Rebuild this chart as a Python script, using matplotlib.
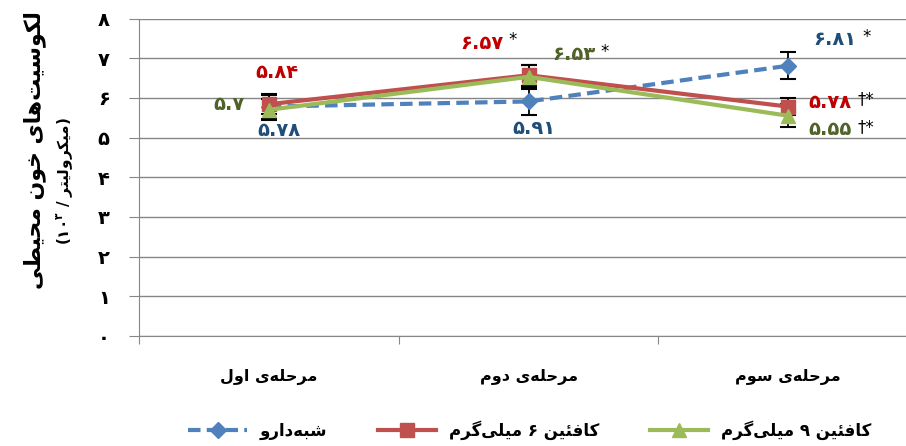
import numpy as np
import matplotlib
matplotlib.use("Agg")
import matplotlib.pyplot as plt

# --- data ---
stages = ["مرحله‌ی اول", "مرحله‌ی دوم", "مرحله‌ی سوم"]
series_names = ["شبه‌دارو", "کافئین ۶ میلی‌گرم", "کافئین ۹ میلی‌گرم"]
placebo = [5.78, 5.91, 6.81]
caf6 = [5.84, 6.57, 5.78]
caf9 = [5.7, 6.53, 5.55]
placebo_err = [0.30, 0.33, 0.34]
caf6_err = [0.25, 0.26, 0.22]
caf9_err = [0.27, 0.30, 0.29]
placebo_sig = ["", "", "*"]
caf6_sig = ["", "*", "†*"]
caf9_sig = ["", "*", "†*"]
yticks = [0, 1, 2, 3, 4, 5, 6, 7, 8]
ylabel_main = "لکوسیت‌های خون محیطی"
ylabel_unit = "میکرولیتر"

# --- minimal persian shaping (matplotlib has no RTL layout) ---
FORMS = {
    'ا': ('\uFE8D', '\uFE8E', None, None),
    'آ': ('\uFE81', '\uFE82', None, None),
    'ب': ('\uFE8F', '\uFE90', '\uFE91', '\uFE92'),
    'ت': ('\uFE95', '\uFE96', '\uFE97', '\uFE98'),
    'ح': ('\uFEA1', '\uFEA2', '\uFEA3', '\uFEA4'),
    'خ': ('\uFEA5', '\uFEA6', '\uFEA7', '\uFEA8'),
    'د': ('\uFEA9', '\uFEAA', None, None),
    'ر': ('\uFEAD', '\uFEAE', None, None),
    'ز': ('\uFEAF', '\uFEB0', None, None),
    'س': ('\uFEB1', '\uFEB2', '\uFEB3', '\uFEB4'),
    'ش': ('\uFEB5', '\uFEB6', '\uFEB7', '\uFEB8'),
    'ط': ('\uFEC1', '\uFEC2', '\uFEC3', '\uFEC4'),
    'ف': ('\uFED1', '\uFED2', '\uFED3', '\uFED4'),
    'ک': ('\uFB8E', '\uFB8F', '\uFB90', '\uFB91'),
    'گ': ('\uFB92', '\uFB93', '\uFB94', '\uFB95'),
    'ل': ('\uFEDD', '\uFEDE', '\uFEDF', '\uFEE0'),
    'م': ('\uFEE1', '\uFEE2', '\uFEE3', '\uFEE4'),
    'ن': ('\uFEE5', '\uFEE6', '\uFEE7', '\uFEE8'),
    'ه': ('\uFEE9', '\uFEEA', '\uFEEB', '\uFEEC'),
    'و': ('\uFEED', '\uFEEE', None, None),
    'ی': ('\uFBFC', '\uFBFD', '\uFBFE', '\uFBFF'),
    'ئ': ('\uFE89', '\uFE8A', '\uFE8B', '\uFE8C'),
}


def fa(text):
    out = []
    for i, c in enumerate(text):
        if c not in FORMS:
            if c != '\u200c':
                out.append(c)
            continue
        prev = text[i - 1] if i > 0 else None
        nxt = text[i + 1] if i + 1 < len(text) else None
        jp = prev in FORMS and FORMS[prev][2] is not None
        jn = nxt in FORMS and FORMS[c][2] is not None
        iso, fin, ini, med = FORMS[c]
        out.append(med if jp and jn else fin if jp else ini if jn else iso)
    return ''.join(reversed(out))


def fa_num(v):
    return str(v).translate(str.maketrans("0123456789", "۰۱۲۳۴۵۶۷۸۹"))


plt.rcParams['font.family'] = ['DejaVu Sans']
plt.rcParams['font.weight'] = 'bold'

fig = plt.figure(figsize=(9.06, 4.46), dpi=100)
ax = fig.add_axes([139 / 906, 110 / 446, 779 / 906, 317.5 / 446])

x = np.arange(len(stages))
blue, red, green = '#4F81BD', '#C0504D', '#9BBB59'

ax.errorbar(x, placebo, yerr=placebo_err, fmt='none', ecolor='black', elinewidth=1.3, capsize=6, capthick=1.5, zorder=2)
ax.errorbar(x, caf6, yerr=caf6_err, fmt='none', ecolor='black', elinewidth=1.3, capsize=6, capthick=1.5, zorder=2)
ax.errorbar(x, caf9, yerr=caf9_err, fmt='none', ecolor='black', elinewidth=1.3, capsize=6, capthick=1.5, zorder=2)

ax.plot(x, placebo, color=blue, lw=3, ls=(0, (3, 1.5)), marker='D', ms=8, label=fa(series_names[0]), zorder=3)
ax.plot(x, caf6, color=red, lw=3, marker='s', ms=10, label=fa(series_names[1]), zorder=4)
ax.plot(x, caf9, color=green, lw=3, marker='^', ms=10, label=fa(series_names[2]), zorder=5)

ax.set_xlim(-0.5, 2.5)
ax.set_ylim(0, 8)
ax.set_yticks(yticks)
ax.set_yticklabels([fa_num(t) for t in yticks], fontsize=14, fontweight='bold')
ax.set_xticks([-0.5, 0.5, 1.5, 2.5])
ax.set_xticklabels([])
ax.set_xticks(x, minor=True)
ax.set_xticklabels([fa(s) for s in stages], minor=True, fontsize=11.5, fontweight='bold')
ax.tick_params(axis='x', which='minor', length=0, pad=24)
ax.tick_params(axis='x', which='major', length=6, color='#868686')
ax.tick_params(axis='y', length=7, color='#868686', pad=14)
ax.grid(axis='y', color='#868686', lw=1)
ax.set_axisbelow(True)
for s in ['top', 'right']:
    ax.spines[s].set_visible(False)
for s in ['left', 'bottom']:
    ax.spines[s].set_color('#868686')

# value labels
lab_colors = ['#1F4E79', '#C00000', '#4F6228']
offsets = [
    [(10, -24), (5, -27), (47, 26)],
    [(8, 32), (-47, 32), (42, 4)],
    [(-40, 5), (45, 22), (42, -14)],
]
for k, (vals, sig) in enumerate([(placebo, placebo_sig), (caf6, caf6_sig), (caf9, caf9_sig)]):
    for i, v in enumerate(vals):
        dx, dy = offsets[k][i]
        ax.annotate(fa_num(v), (x[i], v), xytext=(dx, dy), textcoords='offset pixels',
                    ha='center', va='center', color=lab_colors[k], fontsize=14, fontweight='bold')
        if sig[i]:
            ax.annotate(sig[i], (x[i], v), xytext=(dx + 27, dy + 3), textcoords='offset pixels',
                        ha='left', va='center', color='black', fontsize=12, fontweight='normal')

fig.text(35 / 906, 1 - 150 / 446, fa(ylabel_main), rotation=90, ha='center', va='center', fontsize=15.8, fontweight='bold')
fig.text(65 / 906, 1 - 181 / 446, "(۱۰$^{۳}$ / " + fa(ylabel_unit) + ")", rotation=90, ha='center', va='center', fontsize=11, fontweight='bold')

fig.legend(loc='center', bbox_to_anchor=(0.585, 1 - 430 / 446), ncol=3, frameon=False,
           handlelength=3.5, columnspacing=3, prop={'weight': 'bold', 'size': 12})

fig.savefig('out.png', dpi=100)
